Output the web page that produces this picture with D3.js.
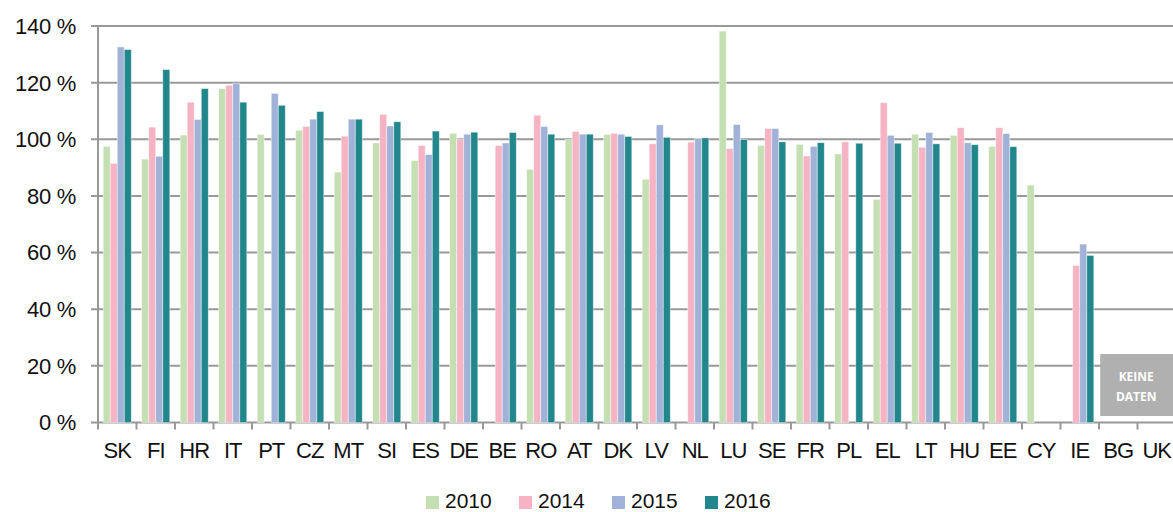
<!DOCTYPE html>
<html>
<head>
<meta charset="utf-8">
<script src="https://cdn.jsdelivr.net/npm/d3@7"></script>
<style>
  body { margin: 0; background: #fff; }
  svg { display: block; font-family: "Liberation Sans", Arial, sans-serif; }
</style>
</head>
<body>
<div id="chart"></div>
<script>
  // countries, left to right
  var countries = ['SK', 'FI', 'HR', 'IT', 'PT', 'CZ', 'MT', 'SI', 'ES', 'DE', 'BE', 'RO', 'AT', 'DK',
    'LV', 'NL', 'LU', 'SE', 'FR', 'PL', 'EL', 'LT', 'HU', 'EE', 'CY', 'IE', 'BG', 'UK'];

  var years = ['2010', '2014', '2015', '2016'];
  var colors = ['#c4dfb2', '#f5b3c4', '#a0b2d8', '#22878c'];

  // values in %, null = no bar
  var v2010 = [97.5, 93.0, 101.5, 117.9, 101.7, 103.2, 88.4, 98.7, 92.5, 102.1, null, 89.4, 99.9, 101.7,
    85.9, null, 138.2, 97.8, 98.2, 94.8, 78.8, 101.8, 101.4, 97.4, 83.8, null, null, null];
  var v2014 = [91.5, 104.3, 113.1, 119.1, null, 104.5, 101.1, 108.8, 97.8, 100.0, 97.8, 108.5, 102.8, 102.1,
    98.4, 99.0, 96.7, 103.8, 94.1, 99.1, 112.9, 97.2, 104.1, 104.1, null, 55.4, null, null];
  var v2015 = [132.6, 94.0, 107.0, 119.8, 116.2, 107.1, 107.1, 104.7, 94.6, 101.8, 98.7, 104.5, 101.8, 101.8,
    105.1, 100.3, 105.2, 103.8, 97.5, null, 101.4, 102.4, 98.8, 102.0, null, 63.0, null, null];
  var v2016 = [131.7, 124.6, 117.9, 113.1, 112.0, 109.8, 107.1, 106.2, 102.9, 102.5, 102.4, 101.8, 101.8, 101.0,
    100.7, 100.5, 99.9, 99.1, 98.8, 98.6, 98.6, 98.4, 98.1, 97.4, null, 59.0, null, null];

  var yTicks = [0, 20, 40, 60, 80, 100, 120, 140];
  var noDataLabel = ['KEINE', 'DATEN'];
  var noDataCountries = ['BG', 'UK'];

  var series = [v2010, v2014, v2015, v2016];

  var width = 1173,
    height = 512;

  var svg = d3.select('#chart').append('svg')
    .attr('width', width)
    .attr('height', height);

  var x = d3.scaleBand()
    .domain(countries)
    .range([98, 1176])
    .paddingInner(0.27)
    .paddingOuter(0.135);

  var xSub = d3.scaleBand()
    .domain(years)
    .range([0, x.bandwidth()]);

  var y = d3.scaleLinear()
    .domain([0, 140])
    .range([422.5, 26]);

  var gridColor = '#999';

  // grid lines
  svg.append('g')
    .selectAll('line')
    .data(yTicks)
    .enter()
    .append('line')
    .attr('x1', 91)
    .attr('x2', width)
    .attr('y1', function (d) { return y(d); })
    .attr('y2', function (d) { return y(d); })
    .attr('stroke', gridColor)
    .attr('stroke-width', 2);

  // y labels
  svg.append('g')
    .selectAll('text')
    .data(yTicks)
    .enter()
    .append('text')
    .attr('x', 76)
    .attr('y', function (d) { return y(d); })
    .attr('dy', '0.36em')
    .attr('text-anchor', 'end')
    .attr('font-size', 22)
    .attr('letter-spacing', -0.3)
    .attr('fill', '#111')
    .text(function (d) { return d + ' %'; });

  // bars
  var groups = svg.append('g')
    .selectAll('g')
    .data(countries)
    .enter()
    .append('g')
    .attr('transform', function (d) { return 'translate(' + x(d) + ',0)'; });

  groups.selectAll('rect')
    .data(function (c, i) {
      return series.map(function (s, k) { return { year: years[k], value: s[i], k: k }; })
        .filter(function (d) { return d.value != null; });
    })
    .enter()
    .append('rect')
    .attr('x', function (d) { return xSub(d.year); })
    .attr('width', xSub.bandwidth())
    .attr('y', function (d) { return y(d.value); })
    .attr('height', function (d) { return y(0) - y(d.value); })
    .attr('fill', function (d) { return colors[d.k]; })
    .attr('stroke', 'rgba(255,255,255,0.55)')
    .attr('stroke-width', 0.8);

  // axes lines
  svg.append('line')
    .attr('x1', 98).attr('x2', 98)
    .attr('y1', y(140)).attr('y2', y(0))
    .attr('stroke', gridColor)
    .attr('stroke-width', 2);

  var boundaries = countries.map(function (c) { return x(c) - x.step() * x.paddingOuter(); });
  svg.append('g')
    .selectAll('line')
    .data(boundaries)
    .enter()
    .append('line')
    .attr('x1', function (d) { return d; })
    .attr('x2', function (d) { return d; })
    .attr('y1', y(0))
    .attr('y2', y(0) + 7)
    .attr('stroke', gridColor)
    .attr('stroke-width', 2);

  // x labels
  svg.append('g')
    .selectAll('text')
    .data(countries)
    .enter()
    .append('text')
    .attr('x', function (d) { return x(d) + x.bandwidth() / 2; })
    .attr('y', 458)
    .attr('text-anchor', 'middle')
    .attr('font-size', 22)
    .attr('letter-spacing', -1)
    .attr('fill', '#111')
    .text(function (d) { return d; });

  // no-data box
  var bx = x(noDataCountries[0]) - 4;
  var box = svg.append('g');
  box.append('rect')
    .attr('x', bx)
    .attr('y', 354)
    .attr('width', width - bx)
    .attr('height', 62)
    .attr('fill', '#b0b0b0');
  box.selectAll('text')
    .data(noDataLabel)
    .enter()
    .append('text')
    .attr('x', bx + 36)
    .attr('y', function (d, i) { return 381 + i * 20; })
    .attr('text-anchor', 'middle')
    .attr('font-family', '"Open Sans", sans-serif')
    .attr('font-weight', 'bold')
    .attr('font-size', 12)
    .attr('fill', '#fff')
    .text(function (d) { return d; });

  // legend
  var legend = svg.append('g')
    .selectAll('g')
    .data(years)
    .enter()
    .append('g')
    .attr('transform', function (d, i) { return 'translate(' + (426 + i * 93) + ',496)'; });

  legend.append('rect')
    .attr('width', 13)
    .attr('height', 13)
    .attr('fill', function (d, i) { return colors[i]; });

  legend.append('text')
    .attr('x', 19)
    .attr('y', 12)
    .attr('font-size', 21)
    .attr('fill', '#111')
    .text(function (d) { return d; });
</script>
</body>
</html>
